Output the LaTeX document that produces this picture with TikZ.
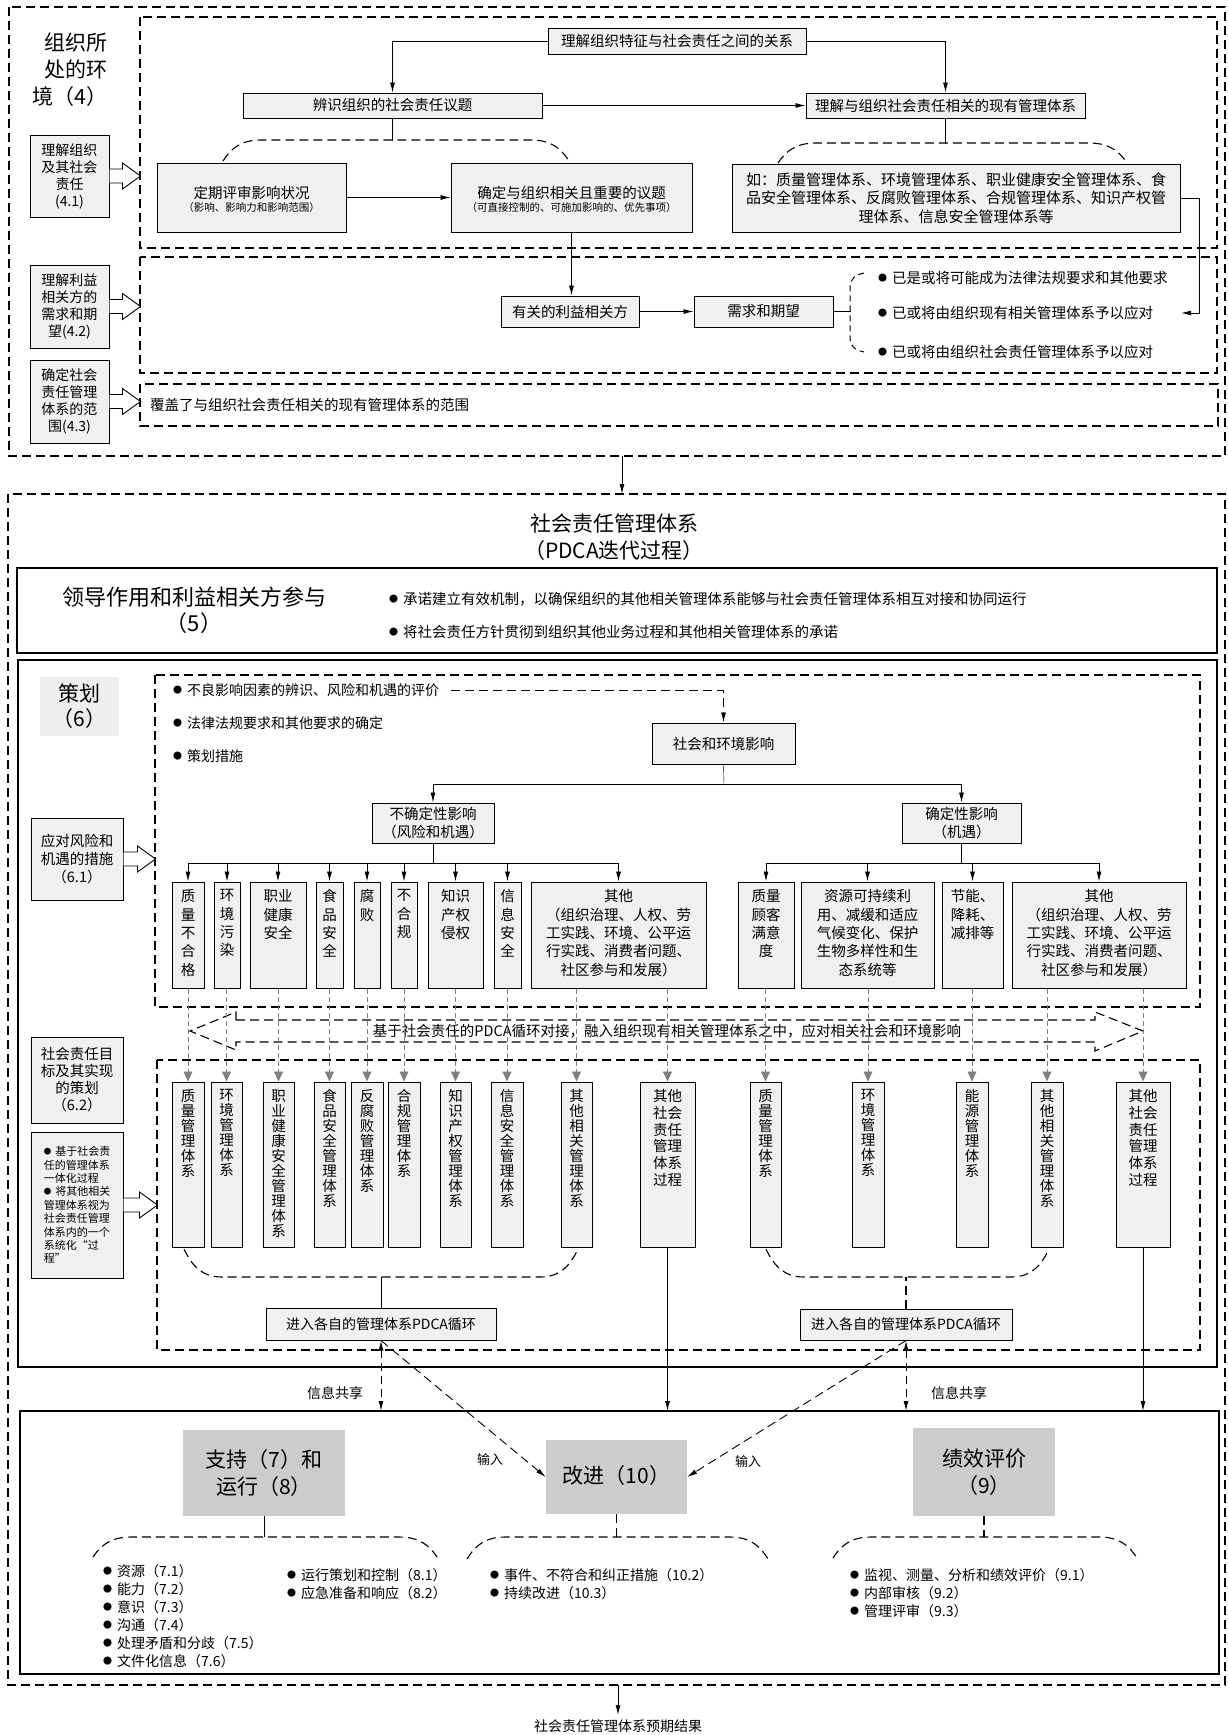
\documentclass[tikz,border=0pt]{standalone}
\usepackage{fontspec}
\setmainfont{Noto Sans CJK SC}
\usetikzlibrary{arrows.meta,calc}
\definecolor{bxfill}{HTML}{F0F0F0}
\definecolor{gblk}{HTML}{CCCCCC}
\definecolor{lblk}{HTML}{EEEEEE}
\definecolor{garrc}{HTML}{808080}
\newcommand\fsz[2]{\fontsize{#1}{#2}\selectfont}
\newcommand\bul{\raisebox{2pt}{\fontsize{9}{9}\selectfont ●}\hspace{5pt}}
\newcommand\sbul{\raisebox{1.5pt}{\fontsize{7.5}{7.5}\selectfont ●}\hspace{4pt}}
\tikzset{
 box/.style={draw=black,fill=bxfill,line width=1pt,inner sep=1pt,align=center,font=\fsz{14.5}{18}},
 lbl/.style={inner sep=0pt,align=center,font=\fsz{14.5}{18}},
 dline/.style={line width=1.1pt,dash pattern=on 9pt off 5pt},
 arr/.style={-{Latex[length=10pt,width=5pt]},line width=0.9pt},
 darr/.style={{Latex[length=10pt,width=5pt]}-{Latex[length=10pt,width=5pt]},line width=1pt,dash pattern=on 8pt off 5pt},
 garr/.style={-{Triangle[length=10pt,width=9pt]},draw=garrc,line width=0.8pt,dash pattern=on 5pt off 3pt},
 gblock/.style={fill=gblk,inner sep=0pt,align=center,font=\fsz{21}{27}},
 frame/.style={line width=1.1pt}
}
% box by corners
\newcommand\bx[7][]{\node[box,minimum width={#5-#3},minimum height={#6-#4},#1] (#2) at ({(#3+#5)/2},{(#4+#6)/2}) {#7};}
% row 1 boxes (top aligned text)
\newcommand\rowA[4]{\node[box,minimum width={#3-#2},minimum height=106] (#1) at ({(#2+#3)/2},935) {};
 \node[lbl,anchor=north,font=\fsz{14.5}{18.3}] at ([yshift=-8pt]#1.north) {#4};}
% row 2 boxes
\newcommand\rowB[5][15]{\node[box,minimum width={#4-#3},minimum height=165] (#2) at ({(#3+#4)/2},1164.5) {};
 \node[lbl,anchor=north,font=\fsz{14.5}{#1}] at ([yshift=-8pt]#2.north) {#5};}
% hollow block arrow from a node's east side
\newcommand\harrow[2]{\draw[line width=0.9pt,fill=white] ($(#1.east)+(0,-7)$) -- ++({#2-18},0) -- ++(0,-6) -- ($(#1.east)+(#2,0)$) -- ($(#1.east)+({#2-18},13)$) -- ++(0,-6) -- ($(#1.east)+(0,7)$);}
% dashed brace: x1, x2, level of flat part, level of ends
\newcommand\bru[4]{\draw[dline] (#1,#4) .. controls ({#1+8},{#3+0.4*(#4-#3)}) and ({#1+18},#3) .. ({#1+38},#3) -- ({#2-38},#3) .. controls ({#2-18},#3) and ({#2-8},{#3+0.4*(#4-#3)}) .. (#2,#4);}

\begin{document}
\begin{tikzpicture}[x=1pt,y=-1pt]
\useasboundingbox (0,0) rectangle (1228,1735);

% ================= context of the organization =================
\draw[dline] (9,7) rectangle (1225,456);
\draw[dline] (140,17) rectangle (1217,248);
\draw[dline] (140,257) rectangle (1217,373);
\draw[dline] (140,384) rectangle (1218,426);

\node[lbl,font=\fsz{21}{27},align=right] (ctx) at (70,70) {组织所\\处的环\\境（4）};

\bx[font=\fsz{14}{17}]{b41}{30}{135}{109}{217}{理解组织\\及其社会\\责任\\(4.1)}
\bx[font=\fsz{14}{17}]{b42}{30}{265}{109}{348}{理解利益\\相关方的\\需求和期\\望(4.2)}
\bx[font=\fsz{14}{17}]{b43}{30}{360}{109}{443}{确定社会\\责任管理\\体系的范\\围(4.3)}
\harrow{b41}{31}
\harrow{b42}{31}
\harrow{b43}{31}

\bx{t1}{548}{28}{806}{54}{理解组织特征与社会责任之间的关系}
\bx{t2}{243}{93}{542}{118}{辨识组织的社会责任议题}
\bx{t3}{806}{93}{1085}{118}{理解与组织社会责任相关的现有管理体系}
\draw[arr] (t1.west) -| (t2.north);
\draw[arr] (t1.east) -| (t3.north);
\draw[arr] (t2.east) -- (t3.west);
\draw (t2.south) -- ++(0,22);
\bru{223}{569}{140}{161}
\draw (t3.south) -- ++(0,25);
\bru{778}{1127}{143}{163}

\bx{dq}{157}{163}{346}{232}{}
\node[lbl] (dqa) at ($(dq.center)+(0,-5)$) {定期评审影响状况};
\node[lbl,font=\fsz{10.5}{12}] (dqb) at ($(dq.center)+(0,10)$) {（影响、影响力和影响范围）};
\bx{qd}{451}{163}{692}{232}{}
\node[lbl] (qda) at ($(qd.center)+(0,-5)$) {确定与组织相关且重要的议题};
\node[lbl,font=\fsz{10.5}{12}] (qdb) at ($(qd.center)+(0,10)$) {（可直接控制的、可施加影响的、优先事项）};
\draw[arr] (dq.east) -- (qd.west);

\bx[font=\fsz{15}{18.5}]{ru}{732}{164}{1180}{232}{如：质量管理体系、环境管理体系、职业健康安全管理体系、食\\品安全管理体系、反腐败管理体系、合规管理体系、知识产权管\\理体系、信息安全管理体系等}

\bx{yg}{501}{296}{639}{327}{有关的利益相关方}
\bx{xq}{694}{296}{833}{327}{需求和期望}
\draw[arr] (qd.south) -- (qd.south |- yg.north);
\draw[arr] (yg.east) -- (xq.west);
\draw (xq.east) -- ++(17,0);
\draw[line width=1pt,dash pattern=on 6pt off 4pt] (864,273) .. controls (855,275) and (850,279) .. (850,287) -- (850,339) .. controls (850,346) and (855,350) .. (864,352);
\node[lbl,anchor=west] (bl1) at (878,278) {\bul 已是或将可能成为法律法规要求和其他要求};
\node[lbl,anchor=west] (bl2) at (878,313) {\bul 已或将由组织现有相关管理体系予以应对};
\node[lbl,anchor=west] (bl3) at (878,352) {\bul 已或将由组织社会责任管理体系予以应对};
\coordinate (bl2tip) at (1181,313);
\draw[arr] (ru.east) -- ++(19,0) |- (bl2tip);

\node[lbl,anchor=west] (dsc) at (150,405) {覆盖了与组织社会责任相关的现有管理体系的范围};

\coordinate (abot) at (622,456);
\coordinate (etop) at (622,494);
\draw[arr] (abot) -- (etop);

% ================= management system =================
\draw[dline] (8,494) rectangle (1225,1685);
\node[lbl,font=\fsz{21}{27}] (etl) at (614,537) {社会责任管理体系\\（PDCA迭代过程）};

\draw[frame] (17,568) rectangle (1217,653);
\node[lbl,font=\fsz{22}{26}] (ltl) at (194,610) {领导作用和利益相关方参与\\（5）};
\node[lbl,anchor=west] (lb1) at (389,599) {\bul 承诺建立有效机制，以确保组织的其他相关管理体系能够与社会责任管理体系相互对接和协同运行};
\node[lbl,anchor=west] (lb2) at (389,632) {\bul 将社会责任方针贯彻到组织其他业务过程和其他相关管理体系的承诺};

% planning
\draw[frame] (18,660) rectangle (1217,1367);
\node[fill=lblk,minimum width=79,minimum height=59,inner sep=0pt,align=center,font=\fsz{21}{25}] (chl) at (79.5,706.5) {策划\\（6）};
\draw[dline] (155,675) rectangle (1200,1007);
\node[lbl,anchor=west,font=\fsz{14}{17}] (qb1) at (173,690) {\bul 不良影响因素的辨识、风险和机遇的评价};
\node[lbl,anchor=west,font=\fsz{14}{17}] (qb2) at (173,723) {\bul 法律法规要求和其他要求的确定};
\node[lbl,anchor=west,font=\fsz{14}{17}] (qb3) at (173,756) {\bul 策划措施};
\bx{soc}{652}{723}{795}{764}{社会和环境影响}
\draw[dline,arr] ($(qb1.east)+(12,0)$) -| (soc.north);

\coordinate (sj) at (724,784);
\bx[font=\fsz{14.5}{18}]{ub}{372}{803}{494}{843}{不确定性影响\\（风险和机遇）}
\bx[font=\fsz{14.5}{18}]{vb}{902}{803}{1021}{843}{确定性影响\\（机遇）}
\draw (soc.south) -- (sj);
\draw[arr] (sj) -| (ub.north);
\draw[arr] (sj) -| (vb.north);

\rowA{r1}{172}{204}{质\\量\\不\\合\\格}
\rowA{r2}{214}{240}{环\\境\\污\\染}
\rowA{r3}{250}{306}{职业\\健康\\安全}
\rowA{r4}{316}{343}{食\\品\\安\\全}
\rowA{r5}{354}{380}{腐\\败}
\rowA{r6}{391}{417}{不\\合\\规}
\rowA{r7}{428}{483}{知识\\产权\\侵权}
\rowA{r8}{494}{521}{信\\息\\安\\全}
\rowA{r9}{531}{706}{其他\\（组织治理、人权、劳\\工实践、环境、公平运\\行实践、消费者问题、\\社区参与和发展）}
\rowA{o1}{738}{794}{质量\\顾客\\满意\\度}
\rowA{o2}{801}{934}{资源可持续利\\用、减缓和适应\\气候变化、保护\\生物多样性和生\\态系统等}
\rowA{o3}{942}{1003}{节能、\\降耗、\\减排等}
\rowA{o4}{1012}{1186}{其他\\（组织治理、人权、劳\\工实践、环境、公平运\\行实践、消费者问题、\\社区参与和发展）}

\coordinate (busa) at (0,863);
\draw (ub.south) -- (ub.south |- busa);
\draw (vb.south) -- (vb.south |- busa);
\draw (r1.north |- busa) -- (r9.north |- busa);
\draw (o1.north |- busa) -- (o4.north |- busa);
\foreach \nn in {r1,r2,r3,r4,r5,r6,r7,r8,r9,o1,o2,o3,o4}
  \draw[arr] (\nn.north |- busa) -- (\nn.north);

\bx[font=\fsz{14.5}{18}]{b61}{31}{818}{123}{900}{应对风险和\\机遇的措施\\（6.1）}
\harrow{b61}{32}
\bx[font=\fsz{14.5}{17}]{b62}{31}{1037}{123}{1123}{社会责任目\\标及其实现\\的策划\\（6.2）}
\bx[font=\fsz{11}{13.4},align=left]{b63}{31}{1132}{123}{1278}{\sbul 基于社会责\\任的管理体系\\一体化过程\\\sbul 将其他相关\\管理体系视为\\社会责任管理\\体系内的一个\\系统化“过\\程”}
\harrow{b63}{34}

% integration double arrow
\draw[dline] (236,1020) -- (1095,1020) -- (1095,1012) -- (1143,1031) -- (1095,1051) -- (1095,1042) -- (236,1042) -- (236,1050) -- (190,1031) -- (236,1012) -- cycle;
\node[lbl,font=\fsz{14.5}{17}] (pdca) at (667,1031) {基于社会责任的PDCA循环对接，融入组织现有相关管理体系之中，应对相关社会和环境影响};

\draw[dline] (157,1060) rectangle (1200,1350);

\rowB{s1}{172}{204}{质\\量\\管\\理\\体\\系}
\rowB{s2}{211}{242}{环\\境\\管\\理\\体\\系}
\rowB{s3}{263}{294}{职\\业\\健\\康\\安\\全\\管\\理\\体\\系}
\rowB{s4}{314}{345}{食\\品\\安\\全\\管\\理\\体\\系}
\rowB{s5}{351}{383}{反\\腐\\败\\管\\理\\体\\系}
\rowB{s6}{388}{420}{合\\规\\管\\理\\体\\系}
\rowB{s7}{440}{471}{知\\识\\产\\权\\管\\理\\体\\系}
\rowB{s8}{491}{523}{信\\息\\安\\全\\管\\理\\体\\系}
\rowB{s9}{561}{592}{其\\他\\相\\关\\管\\理\\体\\系}
\rowB[16.7]{s10}{640}{695}{其他\\社会\\责任\\管理\\体系\\过程}
\rowB{s11}{750}{781}{质\\量\\管\\理\\体\\系}
\rowB{s12}{852}{884}{环\\境\\管\\理\\体\\系}
\rowB{s13}{956}{988}{能\\源\\管\\理\\体\\系}
\rowB{s14}{1031}{1063}{其\\他\\相\\关\\管\\理\\体\\系}
\rowB[16.7]{s15}{1116}{1170}{其他\\社会\\责任\\管理\\体系\\过程}

\foreach \fa/\fb in {r1/s1,r2/s2,r3/s3,r4/s4,r5/s5,r6/s6,r7/s7,r8/s8,r9/s9,r9/s10,o1/s11,o2/s12,o3/s13,o4/s14,o4/s15}
  \draw[garr] (\fb.north |- \fa.south) -- (\fb.north);

\bru{184}{578}{1277}{1249}
\bru{766}{1049}{1277}{1249}
\bx[font=\fsz{14}{17}]{pd1}{266}{1308}{496}{1340}{进入各自的管理体系PDCA循环}
\bx[font=\fsz{14}{17}]{pd2}{800}{1309}{1012}{1340}{进入各自的管理体系PDCA循环}
\draw (pd1.north) -- ++(0,-31);
\draw[dline] (pd2.north) -- ++(0,-32);

% ================= support / operation / evaluation / improvement =================
\coordinate (wtop) at (0,1411);
\draw[frame] (20,1411) rectangle (1219,1674);
\draw[arr] (s10.south) -- (s10.south |- wtop);
\draw[arr] (s15.south) -- (s15.south |- wtop);
\draw[darr] (pd1.south) -- (pd1.south |- wtop);
\draw[darr] (pd2.south) -- (pd2.south |- wtop);
\node[lbl,font=\fsz{14}{17}] (ix1) at (335,1393) {信息共享};
\node[lbl,font=\fsz{14}{17}] (ix2) at (959,1393) {信息共享};

\node[gblock,minimum width=162,minimum height=86] (zc) at (264,1473) {支持（7）和\\运行（8）};
\node[gblock,minimum width=141,minimum height=74] (gj) at (616.5,1477) {\raisebox{6pt}{改进（10）}};
\node[gblock,minimum width=142,minimum height=88] (jx) at (984,1472) {绩效评价\\（9）};

\draw[dline,arr] (pd1.south) -- (gj.west);
\draw[dline,arr] (pd2.south) -- (gj.east);
\node[lbl,font=\fsz{13}{15}] (in1) at (490,1460) {输入};
\node[lbl,font=\fsz{13}{15}] (in2) at (748,1462) {输入};

\draw (zc.south) -- ++(0,21);
\draw[dline] (gj.south) -- ++(0,23);
\draw[dline] (jx.south) -- ++(0,21);
\bru{93}{437}{1537}{1557}
\bru{467}{768}{1537}{1559}
\bru{833}{1137}{1537}{1558}

\node[lbl,anchor=north west,align=left,font=\fsz{14}{18}] (zl1) at (103,1564) {\bul 资源（7.1）\\\bul 能力（7.2）\\\bul 意识（7.3）\\\bul 沟通（7.4）\\\bul 处理矛盾和分歧（7.5）\\\bul 文件化信息（7.6）};
\node[lbl,anchor=north west,align=left,font=\fsz{14}{18}] (zl2) at (287,1568) {\bul 运行策划和控制（8.1）\\\bul 应急准备和响应（8.2）};
\node[lbl,anchor=north west,align=left,font=\fsz{14}{18}] (gl) at (490,1568) {\bul 事件、不符合和纠正措施（10.2）\\\bul 持续改进（10.3）};
\node[lbl,anchor=north west,align=left,font=\fsz{14}{18}] (jl) at (850,1568) {\bul 监视、测量、分析和绩效评价（9.1）\\\bul 内部审核（9.2）\\\bul 管理评审（9.3）};

\coordinate (ebot) at (618,1685);
\coordinate (res) at (618,1715);
\draw[arr] (ebot) -- (res);
\node[lbl,font=\fsz{14}{17},anchor=north] (reslbl) at (618,1719) {社会责任管理体系预期结果};

\end{tikzpicture}
\end{document}
